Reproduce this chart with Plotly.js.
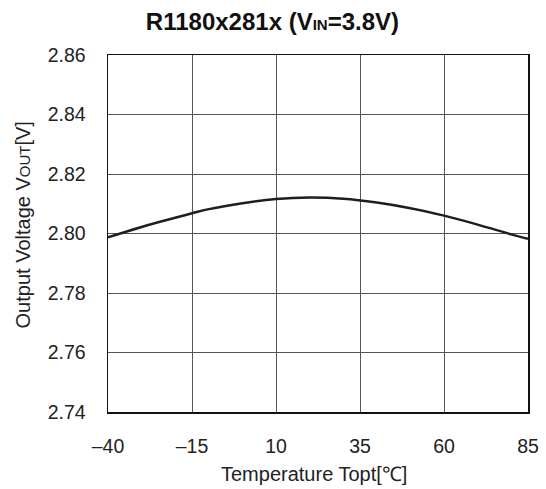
<!DOCTYPE html>
<html>
<head>
<meta charset="utf-8">
<script src="https://cdn.plot.ly/plotly-3.0.1.min.js"></script>
<style>html,body{margin:0;padding:0;background:#fff;}#chart{width:546px;height:489px;}</style>
</head>
<body>
<div id="chart"></div>
<script>
const temperature = [-40, -30, -20, -15, -10, 0, 10, 20, 30, 40, 50, 60, 70, 80, 85];
const vout = [2.7987, 2.8022, 2.8053, 2.8068, 2.8082, 2.8102, 2.8116, 2.8121, 2.8117, 2.8104, 2.8085, 2.8060, 2.8030, 2.7997, 2.7982];
const xTickVals = [-40, -15, 10, 35, 60, 85];
const xTickText = ['\u201340', '\u201315', '10', '35', '60', '85'];
const yTickVals = [2.74, 2.76, 2.78, 2.80, 2.82, 2.84, 2.86];
const yTickText = ['2.74', '2.76', '2.78', '2.80', '2.82', '2.84', '2.86'];

const font = 'Liberation Sans, Arial, sans-serif';
Plotly.newPlot('chart', [{
  x: temperature, y: vout, type: 'scatter', mode: 'lines',
  line: {color: '#1e1e1e', width: 2.5, shape: 'spline', smoothing: 1},
  hoverinfo: 'skip'
}], {
  width: 546, height: 489,
  margin: {l: 107.5, r: 18, t: 55, b: 76.5},
  paper_bgcolor: '#fff', plot_bgcolor: '#fff',
  showlegend: false,
  font: {family: font, color: '#222', size: 19},
  title: {text: '<b>R1180x281x (V<span style="font-size:15px">IN</span>=3.8V)</b>', x: 0.499, xanchor: 'center', y: 0.955, yanchor: 'middle', font: {family: font, size: 24, color: '#111'}},
  xaxis: {
    range: [-40, 85], tickvals: xTickVals, ticktext: xTickText,
    showgrid: true, gridcolor: '#555', gridwidth: 1,
    showline: true, linecolor: '#111', linewidth: 1.5, mirror: true,
    ticks: '', ticklabelstandoff: 16, zeroline: false,
    tickfont: {size: 19.5, color: '#222'}
  },
  yaxis: {
    range: [2.74, 2.86], tickvals: yTickVals, ticktext: yTickText,
    showgrid: true, gridcolor: '#555', gridwidth: 1,
    showline: true, linecolor: '#111', linewidth: 1.5, mirror: true,
    ticks: '', ticklabelstandoff: 17, zeroline: false,
    tickfont: {size: 19.5, color: '#222'}
  },
  annotations: [
    {text: 'Temperature Topt[\u2103]', xref: 'paper', yref: 'paper', x: 0.49, y: -0.175, xanchor: 'center', yanchor: 'middle', showarrow: false, font: {size: 20, color: '#222'}},
    {text: 'Output Voltage V<span style="font-size:15px">OUT</span>[V]', xref: 'paper', yref: 'paper', x: -0.202, y: 0.523, xanchor: 'center', yanchor: 'middle', textangle: -90, showarrow: false, font: {size: 20, color: '#222'}}
  ]
}, {staticPlot: true, displayModeBar: false});
</script>
</body>
</html>
